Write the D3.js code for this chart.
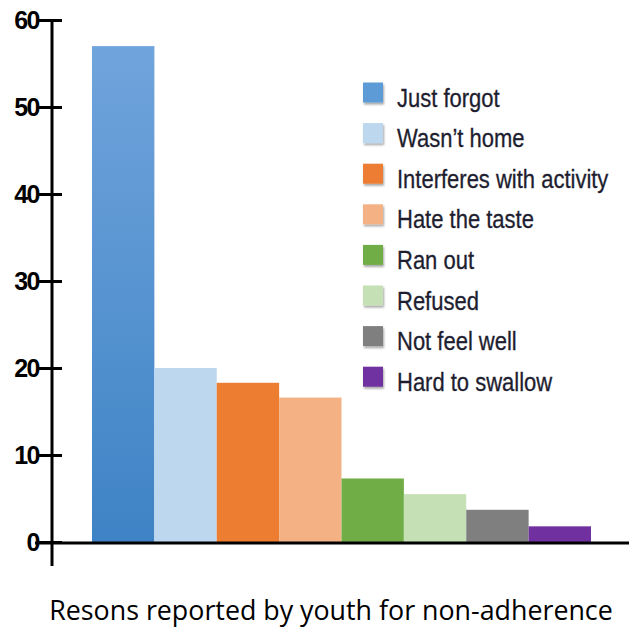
<!DOCTYPE html>
<html lang="en">
<head>
<meta charset="utf-8">
<title>non-adherence reasons</title>
<script src="https://d3js.org/d3.v7.min.js"></script>
<style>
  body{margin:0;background:#fff;}
</style>
</head>
<body>
<div id="chart"></div>
<script>
// reasons and values
var reasons = ["Just forgot","Wasn\u2019t home","Interferes with activity","Hate the taste","Ran out","Refused","Not feel well","Hard to swallow"]
var values = [57, 20, 18.3, 16.6, 7.3, 5.5, 3.7, 1.8]
var colors = ["#5b9bd5","#bdd7ee","#ed7d31","#f4b183","#70ad47","#c5e0b4","#7f7f7f","#7030a0"]
var yTicks = [0,10,20,30,40,50,60]

var w = 629, h = 630
var svg = d3.select("#chart").append("svg").attr("width",w).attr("height",h)

var defs = svg.append("defs")
var grad = defs.append("linearGradient").attr("id","g0").attr("x1",0).attr("y1",0).attr("x2",0).attr("y2",1)
grad.append("stop").attr("offset","0%").attr("stop-color","#70a4dc")
grad.append("stop").attr("offset","100%").attr("stop-color","#3e83c5")
defs.append("filter").attr("id","shadow").attr("x","-20%").attr("y","-20%").attr("width","160%").attr("height","160%")
  .append("feDropShadow").attr("dx",1).attr("dy",2).attr("stdDeviation",1.2).attr("flood-opacity",0.35)

var axisX = 52
var yScale = d3.scaleLinear().domain([0,60]).range([542,20])
var xScale = d3.scaleBand().domain(reasons).range([92,591]).padding(0)

// bars
svg.selectAll("rect.bar")
  .data(values)
  .enter()
  .append("rect")
  .attr("class","bar")
  .attr("x",function(d,i){ return xScale(reasons[i]) })
  .attr("y",function(d){ return yScale(d) })
  .attr("width",xScale.bandwidth())
  .attr("height",function(d){ return yScale(0)-yScale(d) })
  .attr("fill",function(d,i){ return i==0 ? "url(#g0)" : colors[i] })

// y axis
var yAxis = svg.append("g").attr("transform","translate("+axisX+",0)")
  .call(d3.axisLeft(yScale).tickValues(yTicks).tickSizeOuter(0))
yAxis.select(".domain").remove()
yAxis.selectAll(".tick line").attr("x1",-14).attr("x2",10).attr("stroke","#000").attr("stroke-width",3)
yAxis.selectAll(".tick text")
  .attr("x",-13)
  .attr("font-family","Liberation Sans, Arial, sans-serif")
  .attr("font-weight","bold")
  .attr("font-size",25)
  .attr("letter-spacing",-1.5)
  .attr("fill","#000")
yAxis.append("line").attr("x1",0).attr("x2",0).attr("y1",yScale(60)).attr("y2",yScale(0)+24)
  .attr("stroke","#000").attr("stroke-width",3)

// x axis line
svg.append("line").attr("x1",35).attr("x2",w).attr("y1",yScale(0)+1).attr("y2",yScale(0)+1)
  .attr("stroke","#000").attr("stroke-width",3)

// legend
var legend = svg.append("g")
var rows = legend.selectAll("g").data(reasons).enter().append("g")
  .attr("transform",function(d,i){ return "translate(363,"+(92.5+i*40.6)+")" })
rows.append("rect").attr("x",0).attr("y",-10).attr("width",20).attr("height",20)
  .attr("fill",function(d,i){ return colors[i] })
  .attr("filter","url(#shadow)")
// text is a bit condensed in the picture
rows.append("text").attr("transform","translate(34,14) scale(0.88,1)")
  .attr("font-family","Liberation Sans, Arial, sans-serif")
  .attr("font-size",25)
  .attr("fill","#1e1e30")
  .attr("stroke","#1e1e30")
  .attr("stroke-width",0.3)
  .text(function(d){ return d })

// x title
svg.append("text").attr("x",331).attr("y",620).attr("text-anchor","middle")
  .attr("font-family","Open Sans, sans-serif")
  .attr("font-size",26.8)
  .attr("fill","#000")
  .text("Resons reported by youth for non-adherence")
</script>
</body>
</html>
